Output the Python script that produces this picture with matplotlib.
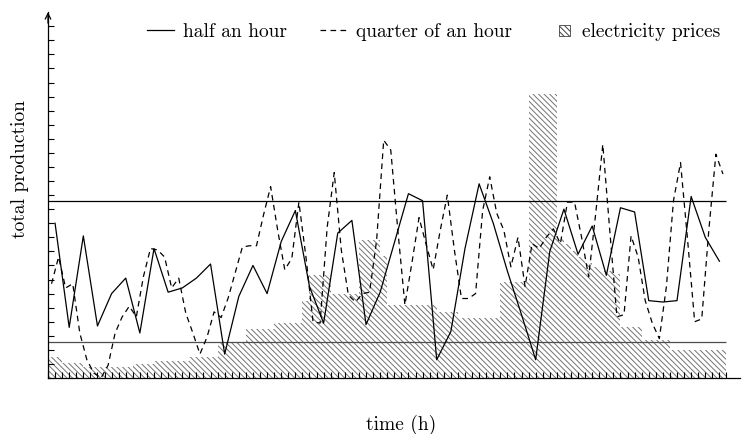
import numpy as np
import matplotlib
matplotlib.use('Agg')
import matplotlib.pyplot as plt
import matplotlib.patches as mpatches
from matplotlib.legend_handler import HandlerPatch

plt.rcParams['font.family'] = 'cmr10'
plt.rcParams['axes.formatter.use_mathtext'] = True
plt.rcParams['hatch.linewidth'] = 0.7

# production sampled every half hour (48 values) and every quarter (96 values)
half_hour = [11.0, 3.6, 10.1, 3.7, 6.0, 7.1, 3.2, 9.2, 6.1, 6.4,
             7.1, 8.1, 1.7, 5.8, 8.0, 6.0, 9.7, 11.9, 6.5, 3.9,
             10.3, 11.2, 3.8, 6.1, 9.6, 13.1, 12.6, 1.3, 3.3, 9.2,
             13.8, 11.0, 7.6, 4.5, 1.3, 9.0, 12.0, 8.8, 10.8, 7.3,
             12.1, 11.8, 5.5, 5.4, 5.5, 12.9, 10.0, 8.3]
quarter_hour = [6.7, 8.6, 6.4, 6.7, 3.2, 1.3, 0.35, 0.0, 0.9, 3.2,
                4.35, 5.1, 4.35, 7.2, 9.2, 9.1, 8.6, 6.4, 7.1, 4.6,
                3.2, 1.7, 2.9, 4.7, 4.3, 5.7, 7.5, 9.3, 9.4, 9.4,
                11.6, 13.6, 10.5, 7.7, 8.5, 12.5, 8.6, 4.0, 3.9, 10.7,
                14.6, 9.1, 5.9, 5.4, 6.0, 6.1, 9.8, 16.9, 16.2, 10.5,
                5.2, 8.2, 11.4, 9.5, 7.7, 10.5, 13.0, 9.1, 5.65, 5.65,
                6.0, 11.9, 14.3, 11.7, 10.5, 7.9, 10.0, 6.5, 9.55, 9.2,
                10.0, 10.6, 9.55, 12.5, 12.5, 10.0, 7.2, 11.7, 16.6, 10.4,
                4.35, 4.5, 10.1, 8.6, 5.5, 3.9, 2.8, 6.5, 12.6, 15.3,
                9.8, 4.0, 4.2, 10.5, 15.9, 14.5]
# electricity price per quarter (scaled to the production axis)
prices = ([1.5] * 2 + [1.1] * 3 + [0.8] * 7 + [1.0] * 3 + [1.2] * 5 +
          [1.5] * 4 + [2.5] * 4 + [3.5] * 4 + [3.9] * 4 + [5.5] + [7.3] * 3 +
          [6.0] * 4 + [9.8] * 3 + [8.7] + [5.2] * 7 + [4.7] * 3 + [4.3] * 6 +
          [6.8] * 4 + [20.2] * 4 +
          [9.9, 9.5, 9.0, 8.6, 8.2, 7.9, 7.6, 7.6, 7.4] +
          [3.6] * 3 + [2.7] * 4 + [2.0] * 8)
limits = [2.55, 12.55]

n_quarters = len(quarter_hour)
t_half = np.arange(len(half_hour)) * 2 + 1
t_quarter = np.arange(n_quarters) + 0.5
edges = np.arange(len(prices) + 1)

HATCH = '\\' * 6
FS = 14

fig = plt.figure(figsize=(7.44, 4.34), dpi=100)
ax = fig.add_axes([0.0645, 0.129, 0.930, 0.843])

ax.stairs(prices, edges, fill=True, hatch=HATCH, facecolor='none',
          edgecolor='0.45', linewidth=0, zorder=1)
ax.hlines(limits[1], 0, n_quarters, color='black', lw=0.9, zorder=2)
ax.hlines(limits[0], 0, n_quarters, color='0.3', lw=0.9, zorder=2)
l1, = ax.plot(t_half, half_hour, color='black', lw=0.9, zorder=3)
l2, = ax.plot(t_quarter, quarter_hour, color='black', lw=0.9,
              linestyle=(0, (4.5, 3.5)), zorder=3)

ax.set_xlim(0, 97.9)
ax.set_ylim(0, 26)
ax.set_xticks(np.arange(n_quarters + 1))
ax.set_yticks(np.arange(26))
ax.tick_params(direction='in', length=4, width=0.8, labelbottom=False,
               labelleft=False)
for s in ['top', 'right']:
    ax.spines[s].set_visible(False)
for s in ['left', 'bottom']:
    ax.spines[s].set_linewidth(0.9)
ax.annotate('', xy=(0, 1.0), xytext=(0, 0.97), xycoords='axes fraction',
            arrowprops=dict(arrowstyle='->', lw=0.9, color='black',
                            shrinkA=0, shrinkB=0))

ax.set_xlabel('time (h)', fontsize=FS)
ax.xaxis.set_label_coords(0.51, -0.1)
ax.set_ylabel('total production', fontsize=FS)
ax.yaxis.set_label_coords(-0.027, 0.57)


def square_patch(legend, orig_handle, xdescent, ydescent, width, height, fontsize):
    side = 0.57 * fontsize
    return mpatches.Rectangle((width - side - 2.3 - xdescent,
                               -ydescent + (height - side) / 2), side, side)


price_handle = mpatches.Patch(facecolor='none', edgecolor='0.25', hatch=HATCH, lw=0.6)
ax.legend([l1, l2, price_handle],
          ['half an hour', 'quarter of an hour', 'electricity prices'],
          ncol=3, frameon=False, fontsize=FS, loc='center',
          bbox_to_anchor=(0.557, 0.945), handlelength=1.4,
          handletextpad=0.45, columnspacing=1.73,
          handler_map={mpatches.Patch: HandlerPatch(patch_func=square_patch)})

fig.savefig('out.png', dpi=100)
